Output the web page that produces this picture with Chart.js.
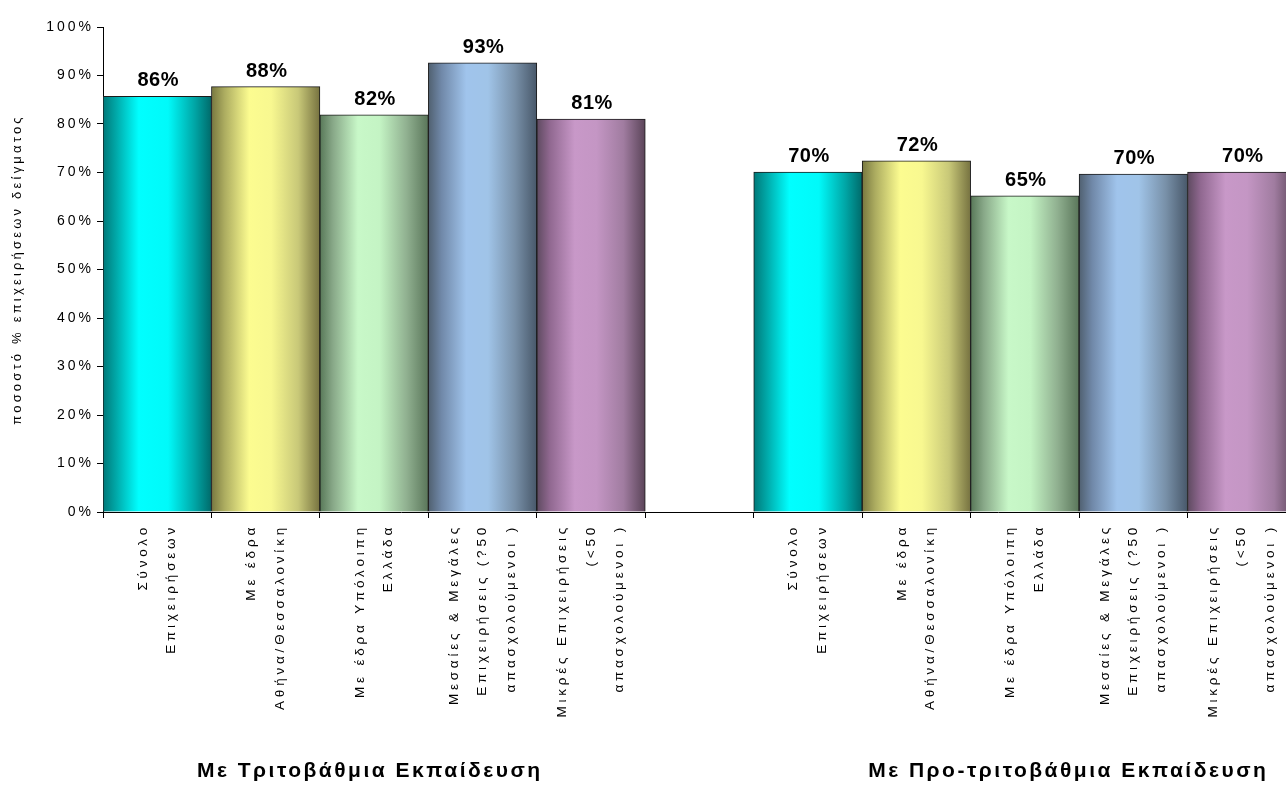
<!DOCTYPE html>
<html>
<head>
<meta charset="utf-8">
<script src="https://cdn.jsdelivr.net/npm/chart.js@4/dist/chart.umd.min.js"></script>
<style>
  html, body { margin: 0; padding: 0; background: #fff; overflow: hidden; width: 1286px; height: 786px; }
  canvas { display: block; }
</style>
</head>
<body>
<canvas id="c" width="1296" height="786"></canvas>
<script>
// ---- data ----
const categories = [
  ["Σύνολο", "Επιχειρήσεων"],
  ["Με έδρα", "Αθήνα/Θεσσαλονίκη"],
  ["Με έδρα Υπόλοιπη", "Ελλάδα"],
  ["Μεσαίες & Μεγάλες", "Επιχειρήσεις (?50", "απασχολούμενοι )"],
  ["Μικρές Επιχειρήσεις", "(<50", "απασχολούμενοι )"],
  "",
  ["Σύνολο", "Επιχειρήσεων"],
  ["Με έδρα", "Αθήνα/Θεσσαλονίκη"],
  ["Με έδρα Υπόλοιπη", "Ελλάδα"],
  ["Μεσαίες & Μεγάλες", "Επιχειρήσεις (?50", "απασχολούμενοι )"],
  ["Μικρές Επιχειρήσεις", "(<50", "απασχολούμενοι )"]
];
const tertiaryValues = [85.7, 87.7, 81.9, 92.6, 81.0];
const preTertiaryValues = [70.1, 72.4, 65.2, 69.7, 70.1];
const groupTitles = ["Με Τριτοβάθμια Εκπαίδευση", "Με Προ-τριτοβάθμια Εκπαίδευση"];
const yTicks = [0, 10, 20, 30, 40, 50, 60, 70, 80, 90, 100];
const yTitle = "ποσοστό % επιχειρήσεων δείγματος";
const values = [...tertiaryValues, null, ...preTertiaryValues];

// ---- styles ----
const palette = [
  [[0,'#007878'],[0.12,'#00a8a8'],[0.33,'#00ffff'],[0.6,'#00fafa'],[0.85,'#00a4a4'],[1,'#006a6a']],
  [[0,'#787840'],[0.12,'#acac60'],[0.35,'#fcfc90'],[0.55,'#f8f890'],[0.8,'#c8c878'],[1,'#767240']],
  [[0,'#587858'],[0.12,'#88a888'],[0.35,'#c8f8c8'],[0.55,'#c4f4c4'],[0.8,'#90b090'],[1,'#5a765a']],
  [[0,'#506070'],[0.12,'#7088a8'],[0.35,'#a0c4ec'],[0.55,'#a0c4e8'],[0.8,'#7890a8'],[1,'#48586a']],
  [[0,'#5e4a60'],[0.12,'#906890'],[0.35,'#c898c8'],[0.55,'#c496c4'],[0.8,'#a07ca0'],[1,'#5a4458']]
];
const FONT = "'Liberation Sans', Arial, sans-serif";
const SPACING = { '14px': '3px', '13.5px': '3.8px', '13px': '3.2px' };

const canvas = document.getElementById('c');
const ctx = canvas.getContext('2d');
function spacingFor(f) {
  const m = /(\d+(?:\.\d+)?px)/.exec(f);
  return (m && SPACING[m[1]]) || '0px';
}
const origFill = ctx.fillText, origMeasure = ctx.measureText;
ctx.fillText = function () { this.letterSpacing = spacingFor(this.font); return origFill.apply(this, arguments); };
ctx.measureText = function () { this.letterSpacing = spacingFor(this.font); return origMeasure.apply(this, arguments); };

// center multi-line rotated category labels on their slot
const centerLabels = {
  id: 'centerLabels',
  beforeDraw(chart) {
    const xs = chart.scales.x;
    const items = xs.getLabelItems();
    if (items._centered) return;
    items.forEach(it => {
      const n = Array.isArray(it.label) ? it.label.length : 1;
      it.textOffset -= (n - 1) * it.font.lineHeight / 2;
    });
    items._centered = true;
  }
};

const dataLabels = {
  id: 'dataLabels',
  afterDatasetsDraw(chart) {
    const c = chart.ctx;
    const meta = chart.getDatasetMeta(0);
    c.save();
    c.font = "bold 20px " + FONT;
    c.fillStyle = '#000';
    c.textAlign = 'center';
    c.textBaseline = 'alphabetic';
    c.letterSpacing = '0.5px';
    meta.data.forEach((el, i) => {
      const v = values[i];
      if (v === null || v === undefined) return;
      origFill.call(c, Math.round(v) + '%', el.x + 1, el.y - 10);
    });
    c.restore();
  }
};

const groupLabels = {
  id: 'groupLabels',
  afterDraw(chart) {
    const c = chart.ctx;
    const xs = chart.scales.x;
    const slot = xs.width / categories.length;
    c.save();
    c.font = "bold 21px " + FONT;
    c.fillStyle = '#000';
    c.textAlign = 'center';
    c.textBaseline = 'middle';
    c.letterSpacing = '2.5px';
    const xl = xs.getPixelForValue(2) - 0.04 * slot;
    const xr = xs.getPixelForValue(8) + 0.4 * slot;
    origFill.call(c, groupTitles[0], xl, 771);
    origFill.call(c, groupTitles[1], xr, 771);
    c.restore();
  }
};

new Chart(ctx, {
  type: 'bar',
  data: {
    labels: categories,
    datasets: [{
      data: values,
      barPercentage: 1,
      categoryPercentage: 1,
      borderWidth: 1,
      borderColor: '#1a1a1a',
      backgroundColor: (c) => {
        const chart = c.chart;
        const xs = chart.scales && chart.scales.x;
        const idx = c.dataIndex;
        if (!xs || idx === undefined) return '#00e0e0';
        const p = palette[idx < 5 ? idx : (idx - 6 + 5) % 5];
        const cx = xs.getPixelForValue(idx);
        const w = xs.width / categories.length;
        if (!isFinite(cx) || !isFinite(w) || w <= 0) return p[2][1];
        const g = chart.ctx.createLinearGradient(cx - w / 2, 0, cx + w / 2, 0);
        p.forEach(s => g.addColorStop(s[0], s[1]));
        return g;
      }
    }]
  },
  options: {
    responsive: false,
    animation: false,
    devicePixelRatio: 1,
    layout: { padding: { top: 27, right: 0, bottom: 0, left: 0 } },
    plugins: { legend: { display: false }, tooltip: { enabled: false } },
    scales: {
      x: {
        offset: true,
        grid: { display: true, drawOnChartArea: false, drawTicks: true, tickLength: 6, color: '#000', offset: true },
        border: { display: true, color: '#000', width: 1 },
        ticks: {
          autoSkip: false, minRotation: 90, maxRotation: 90, padding: 6,
          color: '#000', font: { family: FONT, size: 13.5, lineHeight: 2.1 }
        },
        afterFit(s) { s.height = 274; s.paddingLeft = 0; s.paddingRight = 0; }
      },
      y: {
        min: 0, max: 100,
        afterBuildTicks(s) { s.ticks = yTicks.map(v => ({ value: v })); },
        grid: { display: true, drawOnChartArea: false, drawTicks: true, tickLength: 6, color: '#000' },
        border: { display: true, color: '#000', width: 1 },
        ticks: {
          padding: 3, color: '#000',
          font: { family: FONT, size: 14 },
          callback: v => v + '%'
        },
        title: {
          display: true, text: yTitle, color: '#000',
          font: { family: FONT, size: 13 }, padding: { top: 10, bottom: 0 }
        },
        afterFit(s) { s.width = 103; }
      }
    }
  },
  plugins: [centerLabels, dataLabels, groupLabels]
});
</script>
</body>
</html>
